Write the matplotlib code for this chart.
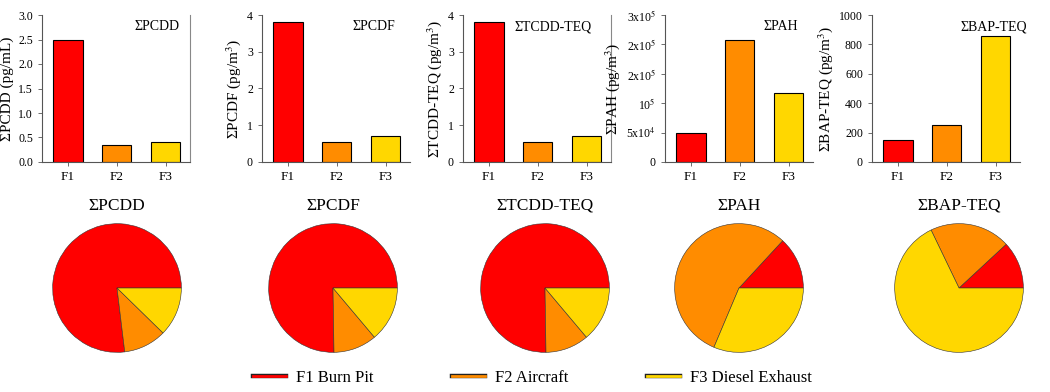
import matplotlib.pyplot as plt
import matplotlib.ticker as mticker
import matplotlib.patheffects as pe
from matplotlib.lines import Line2D

plt.rcParams['font.family'] = ['Liberation Serif', 'DejaVu Serif']
plt.rcParams['mathtext.fontset'] = 'stix'

# data
sources = ["F1", "F2", "F3"]
legend_labels = ["F1 Burn Pit", "F2 Aircraft", "F3 Diesel Exhaust"]
colors = ["#FF0000", "#FF8C00", "#FFD700"]

pcdd = [2.5, 0.35, 0.4]
pcdf = [3.8, 0.55, 0.7]
tcdd_teq = [3.8, 0.55, 0.7]
pah = [49000, 207000, 117000]
bap_teq = [150, 255, 855]

panel_names = ["ΣPCDD", "ΣPCDF", "ΣTCDD-TEQ", "ΣPAH", "ΣBAP-TEQ"]
ylabels = ["ΣPCDD (pg/mL)", r"ΣPCDF (pg/m$^3$)", r"ΣTCDD-TEQ (pg/m$^3$)",
           r"ΣPAH (pg/m$^3$)", r"ΣBAP-TEQ (pg/m$^3$)"]
series = [pcdd, pcdf, tcdd_teq, pah, bap_teq]
ylims = [3.0, 4, 4, 2.5e5, 1000]
yticks = [[0, 0.5, 1.0, 1.5, 2.0, 2.5, 3.0], [0, 1, 2, 3, 4], [0, 1, 2, 3, 4],
          [0, 5e4, 1e5, 1.5e5, 2e5, 2.5e5], [0, 200, 400, 600, 800, 1000]]
pah_ticklabels = ["0", r"5x10$^4$", r"10$^5$", r"2x10$^5$", r"2x10$^5$", r"3x10$^5$"]

W, H = 1050, 392
fig = plt.figure(figsize=(W / 100, H / 100), dpi=100)

bar_lefts = [42, 262, 463, 665, 872]
title_pos = [(0.93, "right"), (0.90, "right"), (0.61, "center"), (0.78, "center"), (0.82, "center")]
right_spine = [True, False, True, False, False]

for i in range(5):
    ax = fig.add_axes([bar_lefts[i] / W, 1 - 162 / H, 148 / W, 147 / H])
    ax.bar([1, 2, 3], series[i], width=0.6, color=colors, edgecolor="black", linewidth=0.8)
    ax.set_xlim(0.47, 3.5)
    ax.set_ylim(0, ylims[i])
    ax.set_xticks([1, 2, 3])
    ax.set_xticklabels(sources, fontsize=9.5)
    ax.set_yticks(yticks[i])
    if i == 0:
        ax.yaxis.set_major_formatter(mticker.FormatStrFormatter("%.1f"))
    if i == 3:
        ax.set_yticklabels(pah_ticklabels)
    ax.tick_params(axis="y", labelsize=8.5, length=3, width=0.6, color="#555555")
    ax.tick_params(axis="x", length=3, width=0.6, color="#555555")
    ax.set_ylabel(ylabels[i], fontsize=11, labelpad=3)
    ax.spines["top"].set_visible(False)
    ax.spines["right"].set_visible(right_spine[i])
    ax.spines["right"].set_color("#888888")
    for s in ["left", "bottom"]:
        ax.spines[s].set_color("#555555")
        ax.spines[s].set_linewidth(0.8)
    xt, ha = title_pos[i]
    ax.text(xt, 0.92, panel_names[i], transform=ax.transAxes, ha=ha, va="center", fontsize=10)

# pies
pie_centers = [117, 333, 545, 739, 959]
r = 65
for i in range(5):
    cx = pie_centers[i]
    pax = fig.add_axes([(cx - r) / W, 1 - (288 + r) / H, 2 * r / W, 2 * r / H])
    pax.pie(series[i], colors=colors, startangle=0, counterclock=True,
            wedgeprops=dict(edgecolor="#333333", linewidth=0.4))
    pax.set_xlim(-1.01, 1.01)
    pax.set_ylim(-1.01, 1.01)
    pax.set_aspect("equal")
    fig.text(cx / W, 1 - 206 / H, panel_names[i], ha="center", va="center", fontsize=12.5)

# legend
handles = [Line2D([0], [0], color=c, lw=2.0,
                  path_effects=[pe.Stroke(linewidth=3.2, foreground="#222222"), pe.Normal()])
           for c in colors]
fig.legend(handles, legend_labels, loc="center", bbox_to_anchor=(0.507, 1 - 378 / H),
           ncol=3, frameon=False, fontsize=12, handlelength=2.0, columnspacing=4.7,
           handletextpad=0.6)

fig.savefig("out.png", dpi=100)
